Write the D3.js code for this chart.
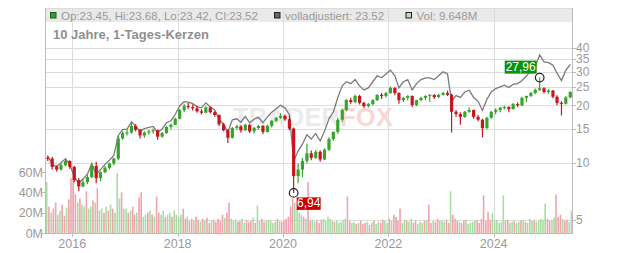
<!DOCTYPE html>
<html>
<head>
<meta charset="utf-8">
<script src="https://cdn.jsdelivr.net/npm/d3@7"></script>
<style>
  body { margin: 0; background: #fff; }
  svg { display: block; font-family: "Liberation Sans", Arial, sans-serif; }
</style>
</head>
<body>
<svg id="chart" width="632" height="253"></svg>
<script>
// monthly candles Jul 2015 .. Jun 2025 (one row per year)
const open = [
  10.6, 10.5, 9.5, 9.2, 9.7, 10.2,
  9.5, 8.1, 7.5, 7.9, 8.4, 9.6, 8.3, 8.9, 9.4, 9.9, 10.5, 13.4,
  14.3, 14.4, 15.6, 14.9, 13.9, 14.4, 14.6, 14.8, 13.7, 14.3, 15.4, 15.8,
  17.0, 18.9, 19.8, 19.6, 19.3, 18.6, 18.3, 19.5, 18.4, 17.8, 15.9, 14.8,
  13.5, 15.2, 15.5, 14.8, 15.8, 14.6, 15.2, 15.6, 14.5, 15.6, 16.6, 17.2,
  17.6, 16.9, 15.1, 8.5, 9.2, 10.2, 11.2, 10.6, 11.4, 10.4, 11.7, 13.3,
  14.5, 16.8, 18.9, 21.3, 20.8, 22.4, 20.6, 19.8, 20.3, 21.3, 22.7, 22.4,
  23.2, 24.7, 23.2, 21.3, 21.9, 22.4, 20.1, 21.3, 21.9, 22.4, 22.7, 22.1,
  22.7, 23.2, 22.7, 18.5, 18.0, 17.4, 18.5, 18.9, 17.4, 16.8, 15.2, 17.2,
  18.5, 18.9, 19.4, 19.6, 19.1, 20.3, 20.0, 21.9, 22.4, 23.2, 24.1, 24.6,
  23.5, 23.9, 22.2, 20.6, 20.4, 22.0
];
const high = [
  10.9, 10.7, 9.7, 9.9, 10.4, 10.3,
  9.6, 8.3, 8.2, 8.6, 9.8, 10.1, 9.0, 9.6, 10.0, 10.6, 13.8, 14.6,
  14.9, 16.3, 15.9, 15.0, 14.6, 14.9, 15.1, 14.9, 14.5, 15.6, 16.0, 17.2,
  19.2, 20.3, 20.6, 20.2, 19.9, 19.1, 19.8, 19.7, 18.6, 17.9, 16.2, 15.0,
  15.4, 15.8, 15.7, 16.0, 15.9, 15.4, 15.8, 15.7, 15.8, 16.7, 17.4, 18.2,
  17.9, 17.6, 15.3, 9.9, 10.6, 12.6, 11.6, 11.7, 11.6, 11.9, 13.6, 14.6,
  17.2, 19.2, 21.6, 21.9, 22.8, 22.7, 20.9, 20.6, 21.5, 22.9, 23.2, 23.5,
  25.1, 24.9, 23.4, 22.1, 22.6, 22.5, 21.4, 22.2, 22.6, 22.9, 22.9, 23.0,
  23.6, 23.9, 23.0, 18.9, 18.4, 18.7, 19.5, 19.0, 17.8, 17.0, 17.4, 18.7,
  19.3, 19.6, 19.9, 19.8, 20.6, 20.7, 22.2, 22.5, 23.6, 24.5, 27.96, 24.9,
  24.4, 24.1, 22.6, 21.0, 22.3, 23.7
];
const low = [
  10.2, 9.2, 9.0, 9.1, 9.6, 9.3,
  7.9, 7.1, 7.4, 7.7, 8.3, 7.8, 8.0, 8.8, 9.2, 9.7, 10.3, 13.2,
  13.9, 14.2, 14.6, 13.4, 13.5, 14.0, 14.2, 13.2, 13.5, 14.2, 15.0, 15.7,
  16.9, 18.4, 19.2, 18.8, 18.3, 17.9, 18.2, 18.1, 17.4, 15.6, 14.6, 12.7,
  13.4, 14.9, 14.4, 14.7, 14.3, 14.2, 14.9, 14.1, 14.4, 15.3, 16.3, 17.0,
  16.6, 14.8, 6.94, 7.8, 8.4, 9.9, 10.3, 10.5, 10.1, 10.3, 11.5, 13.0,
  14.2, 16.4, 18.6, 20.4, 20.5, 20.2, 19.4, 19.5, 20.0, 21.1, 21.6, 22.0,
  23.0, 22.6, 20.4, 20.8, 21.2, 19.6, 19.8, 21.0, 21.3, 20.9, 21.6, 21.9,
  22.5, 22.4, 14.4, 17.4, 15.8, 17.2, 18.3, 17.0, 16.5, 13.6, 15.0, 17.0,
  17.9, 18.4, 19.0, 18.4, 19.0, 19.6, 19.8, 20.8, 22.1, 22.9, 23.8, 23.1,
  23.0, 21.8, 20.0, 17.7, 20.2, 21.8
];
const close = [
  10.5, 9.5, 9.2, 9.7, 10.2, 9.5,
  8.1, 7.5, 7.9, 8.4, 9.6, 8.3, 8.9, 9.4, 9.9, 10.5, 13.4, 14.3,
  14.4, 15.6, 14.9, 13.9, 14.4, 14.6, 14.8, 13.7, 14.3, 15.4, 15.8, 17.0,
  18.9, 19.8, 19.6, 19.3, 18.6, 18.3, 19.5, 18.4, 17.8, 15.9, 14.8, 13.5,
  15.2, 15.5, 14.8, 15.8, 14.6, 15.2, 15.6, 14.5, 15.6, 16.6, 17.2, 17.6,
  16.9, 15.1, 8.5, 9.2, 10.2, 11.2, 10.6, 11.4, 10.4, 11.7, 13.3, 14.5,
  16.8, 18.9, 21.3, 20.8, 22.4, 20.6, 19.8, 20.3, 21.3, 22.7, 22.4, 23.2,
  24.7, 23.2, 21.3, 21.9, 22.4, 20.1, 21.3, 21.9, 22.4, 22.7, 22.1, 22.7,
  23.2, 22.7, 18.5, 18.0, 17.4, 18.5, 18.9, 17.4, 16.8, 15.2, 17.2, 18.5,
  18.9, 19.4, 19.6, 19.1, 20.3, 20.0, 21.9, 22.4, 23.2, 24.1, 24.6, 23.5,
  23.9, 22.2, 20.6, 20.4, 22.0, 23.5
];
// "volladjustiert" line, same months
const adjusted = [
  10.8, 9.8, 9.5, 10.0, 10.5, 9.8,
  8.4, 7.8, 8.2, 8.7, 9.9, 8.7, 9.2, 9.8, 10.3, 10.9, 13.9, 14.9,
  15.0, 16.4, 15.6, 14.6, 15.1, 15.3, 15.5, 14.4, 15.0, 16.2, 16.6, 17.9,
  19.9, 20.9, 20.8, 20.4, 19.7, 19.4, 20.6, 19.6, 18.9, 16.9, 15.9, 14.5,
  16.8, 17.0, 16.3, 17.5, 16.2, 16.9, 17.3, 16.2, 17.4, 18.4, 19.2, 20.0,
  19.4, 17.8, 10.2, 11.5, 12.5, 14.0, 13.3, 14.2, 13.0, 14.6, 17.0, 18.4,
  22.0, 25.3, 26.6, 26.0, 27.3, 25.3, 24.1, 24.7, 26.6, 28.6, 27.9, 29.2,
  30.6, 28.6, 24.7, 26.6, 27.3, 24.1, 26.0, 27.3, 27.9, 27.9, 27.3, 28.6,
  30.0, 29.2, 21.0, 22.5, 22.0, 23.5, 24.0, 22.0, 21.0, 18.8, 21.5, 23.5,
  24.5, 25.0, 25.5, 24.8, 25.8, 26.0, 27.0, 28.5, 30.5, 32.0, 36.8, 33.8,
  33.5, 32.5, 29.5, 27.0, 30.5, 32.8
];
// volume in millions, two bars per month
const volume = [
  50, 26, 20, 24, 30, 18, 22, 28, 17, 25, 33, 54,
  56, 38, 30, 34, 28, 26, 41, 24, 26, 32, 30, 44, 22, 24, 20, 26, 22, 28, 24, 20, 59, 34, 40, 24,
  24, 20, 22, 26, 18, 20, 35, 40, 16, 18, 20, 22, 18, 16, 36, 20, 18, 22, 16, 18, 20, 16, 22, 18,
  16, 18, 24, 14, 16, 12, 14, 12, 16, 13, 11, 14, 12, 15, 10, 12, 13, 11, 14, 12, 18, 15, 20, 30,
  14, 12, 13, 11, 12, 14, 10, 13, 11, 12, 15, 10, 27, 12, 14, 11, 12, 13, 12, 10, 11, 14, 12, 11,
  12, 14, 16, 26, 34, 30, 24, 20, 18, 16, 14, 50, 12, 13, 11, 12, 10, 13, 14, 12, 16, 14, 12, 11,
  12, 10, 11, 13, 14, 36, 12, 10, 11, 9, 10, 12, 9, 10, 11, 8, 10, 12, 9, 11, 10, 13, 12, 10,
  14, 12, 18, 16, 12, 24, 10, 13, 12, 11, 14, 10, 12, 9, 11, 10, 12, 13, 28, 10, 12, 11, 14, 12,
  12, 11, 13, 10, 41, 18, 14, 12, 11, 10, 12, 13, 9, 10, 11, 12, 13, 10, 14, 37, 12, 21, 13, 20,
  12, 13, 10, 11, 37, 12, 13, 10, 11, 12, 10, 11, 12, 13, 11, 10, 14, 12, 13, 11, 12, 14, 13, 29,
  14, 12, 13, 15, 38, 16, 18, 14, 12, 13, 11, 22
];
// u = up day (green), d = down day (red)
const volumeDir = (
  "udud duud dudd" +
  "ddud uudu udud uudu dudu uudu" +
  "udud dudd uudu dudd uudu udu u" +
  "uudd uddu ddud uddu dddd dudd" +
  "uuud duud ddud uudd uuuu udud" +
  "dddd duuu udud duud ddu uuuud" +
  "uuuu uddu udud ddud udu udd uud" +
  "uddd duud uudd uuud udd udd uu" +
  "uddu dddu ddu uuuud dddd ddu uuu" +
  "uudd uudu udud uuud uuuu uddu" +
  "uddd uddu uuuu"
).replace(/ /g, "");

const yearTicks = [2016, 2018, 2020, 2022, 2024];
const priceTicks = [5, 10, 15, 20, 25, 30, 35, 40];
const volTicks = [0, 20, 40, 60];

const legendOhlc = "Op:23.45, Hi:23.68, Lo:23.42, Cl:23.52";
const legendAdj = "volladjustiert: 23.52";
const legendVol = "Vol: 9.648M";
const title = "10 Jahre, 1-Tages-Kerzen";

const months = d3.timeMonth.range(new Date(2015, 6, 1), new Date(2025, 6, 1));
const candles = months.map((m, i) => ({
  date: d3.timeDay.offset(m, 14),
  o: open[i], h: high[i], l: low[i], c: close[i], adj: adjusted[i]
}));
const volBars = volume.map((v, i) => ({
  date: new Date(months[Math.floor(i / 2)].getFullYear(), months[Math.floor(i / 2)].getMonth(), i % 2 ? 23 : 8),
  v: v,
  up: volumeDir[i] === "u"
}));

const L = 45, R = 572, T = 8, B = 233;
const svg = d3.select("#chart");

const x = d3.scaleTime()
  .domain([new Date(2015, 5, 26), new Date(2025, 5, 27)])
  .range([L, R]);
const y = d3.scaleLog().domain([5, 40]).range([220, 48]);
const yVol = d3.scaleLinear().domain([0, 60]).range([B, 172]);

const green = "#37a42c", red = "#c8141c";
const gridCol = "#dcdcdc", axisCol = "#bdbdbd", textCol = "#9a9a9a";

// legend band
svg.append("rect").attr("x", L).attr("y", T).attr("width", R - L).attr("height", 14)
  .attr("fill", "#e9e9e9");

// grid
svg.append("g").selectAll("line").data(priceTicks).enter().append("line")
  .attr("x1", L).attr("x2", R)
  .attr("y1", d => Math.round(y(d)) + 0.5).attr("y2", d => Math.round(y(d)) + 0.5)
  .attr("stroke", gridCol);
svg.append("g").selectAll("line").data(yearTicks).enter().append("line")
  .attr("x1", d => Math.round(x(new Date(d, 0, 1))) + 0.5)
  .attr("x2", d => Math.round(x(new Date(d, 0, 1))) + 0.5)
  .attr("y1", T).attr("y2", B)
  .attr("stroke", gridCol);
svg.append("line").attr("x1", L).attr("x2", R).attr("y1", T + 0.5).attr("y2", T + 0.5)
  .attr("stroke", gridCol);

// watermark
const wm = svg.append("text").attr("x", 233).attr("y", 126)
  .attr("font-size", 25).attr("font-weight", "bold").attr("letter-spacing", 0.5);
wm.append("tspan").attr("fill", "#ebebeb").text("TRADER");
wm.append("tspan").attr("fill", "#fad6d6").text("FOX");

// volume
svg.append("g").selectAll("rect").data(volBars).enter().append("rect")
  .attr("x", d => x(d.date) - 0.8)
  .attr("width", 1.6)
  .attr("y", d => yVol(d.v))
  .attr("height", d => B - yVol(d.v))
  .attr("fill", d => d.up ? "#a9dba3" : "#f0a3ab");

// adjusted line
svg.append("path").datum(candles)
  .attr("fill", "none").attr("stroke", "#7b7b7b").attr("stroke-width", 1.3)
  .attr("d", d3.line().x(d => x(d.date)).y(d => y(d.adj)));

// candles
const cg = svg.append("g");
cg.selectAll("line").data(candles).enter().append("line")
  .attr("x1", d => x(d.date)).attr("x2", d => x(d.date))
  .attr("y1", d => y(d.h)).attr("y2", d => y(d.l))
  .attr("stroke", d => d.c >= d.o ? green : red).attr("stroke-width", 1.2);
cg.selectAll("rect").data(candles).enter().append("rect")
  .attr("x", d => x(d.date) - 1.6).attr("width", 3.2)
  .attr("y", d => y(Math.max(d.o, d.c)))
  .attr("height", d => Math.max(1, Math.abs(y(d.o) - y(d.c))))
  .attr("fill", d => d.c >= d.o ? green : red);

// axes frame
svg.append("line").attr("x1", L + 0.5).attr("x2", L + 0.5).attr("y1", T).attr("y2", B)
  .attr("stroke", axisCol);
svg.append("line").attr("x1", R + 0.5).attr("x2", R + 0.5).attr("y1", T).attr("y2", B)
  .attr("stroke", axisCol);
svg.append("line").attr("x1", L).attr("x2", R + 1).attr("y1", B + 0.5).attr("y2", B + 0.5)
  .attr("stroke", axisCol);

// right price axis
const ra = svg.append("g");
ra.selectAll("line").data(priceTicks).enter().append("line")
  .attr("x1", R).attr("x2", R + 4)
  .attr("y1", d => Math.round(y(d)) + 0.5).attr("y2", d => Math.round(y(d)) + 0.5)
  .attr("stroke", axisCol);
ra.selectAll("text").data(priceTicks).enter().append("text")
  .attr("x", R + 4).attr("y", d => y(d)).attr("dy", "0.36em")
  .attr("font-size", 12).attr("fill", textCol).text(d => d);

// left volume axis
const la = svg.append("g");
la.selectAll("line").data(volTicks).enter().append("line")
  .attr("x1", L - 3).attr("x2", L)
  .attr("y1", d => Math.round(yVol(d)) + 0.5).attr("y2", d => Math.round(yVol(d)) + 0.5)
  .attr("stroke", axisCol);
la.selectAll("text").data(volTicks).enter().append("text")
  .attr("x", L - 2).attr("y", d => yVol(d)).attr("dy", "0.36em")
  .attr("text-anchor", "end")
  .attr("font-size", 12.5).attr("fill", textCol).text(d => d + "M");

// bottom year axis
const ba = svg.append("g");
ba.selectAll("line").data(yearTicks).enter().append("line")
  .attr("x1", d => Math.round(x(new Date(d, 0, 1))) + 0.5)
  .attr("x2", d => Math.round(x(new Date(d, 0, 1))) + 0.5)
  .attr("y1", B).attr("y2", B + 4).attr("stroke", axisCol);
ba.selectAll("text").data(yearTicks).enter().append("text")
  .attr("x", d => x(new Date(d, 0, 1))).attr("y", 247.5)
  .attr("text-anchor", "middle")
  .attr("font-size", 12.5).attr("fill", textCol).text(d => d);

// legend
function legendItem(px, fill, stroke, label) {
  svg.append("rect").attr("x", px + 0.5).attr("y", 12.5).attr("width", 5.5).attr("height", 5.5)
    .attr("fill", fill).attr("stroke", stroke);
  svg.append("text").attr("x", px + 11).attr("y", 19.5)
    .attr("font-size", 11.5).attr("fill", textCol).text(label);
}
legendItem(50, "#2fa32a", "#1e5a1a", legendOhlc);
legendItem(274, "#666", "#222", legendAdj);
legendItem(405.5, "#b6e2b1", "#222", legendVol);

svg.append("text").attr("x", 53).attr("y", 38.5)
  .attr("font-size", 13).attr("font-weight", "bold").attr("fill", "#8f8f8f").text(title);

// high / low markers
const fmt = v => d3.format(".2f")(v).replace(".", ",");
const hiC = candles[d3.maxIndex(candles, d => d.h)];
const loC = candles[d3.minIndex(candles, d => d.l)];

const hx = x(hiC.date), hy = y(hiC.h);
svg.append("rect").attr("x", hx - 35).attr("y", hy - 17).attr("width", 32).attr("height", 13)
  .attr("fill", "#0a930a");
svg.append("text").attr("x", hx - 19).attr("y", hy - 6.5).attr("text-anchor", "middle")
  .attr("font-size", 12).attr("fill", "#fff").text(fmt(hiC.h));
svg.append("circle").attr("cx", hx).attr("cy", hy).attr("r", 4.3)
  .attr("fill", "none").attr("stroke", "#222").attr("stroke-width", 1.2);

const lx = x(loC.date), ly = y(loC.l);
svg.append("rect").attr("x", lx + 3).attr("y", ly + 4.5).attr("width", 24).attr("height", 12.5)
  .attr("fill", "#cc0000");
svg.append("text").attr("x", lx + 15).attr("y", ly + 14.5).attr("text-anchor", "middle")
  .attr("font-size", 12).attr("fill", "#fff").text(fmt(loC.l));
svg.append("circle").attr("cx", lx).attr("cy", ly).attr("r", 4.3)
  .attr("fill", "none").attr("stroke", "#222").attr("stroke-width", 1.2);
</script>
</body>
</html>
